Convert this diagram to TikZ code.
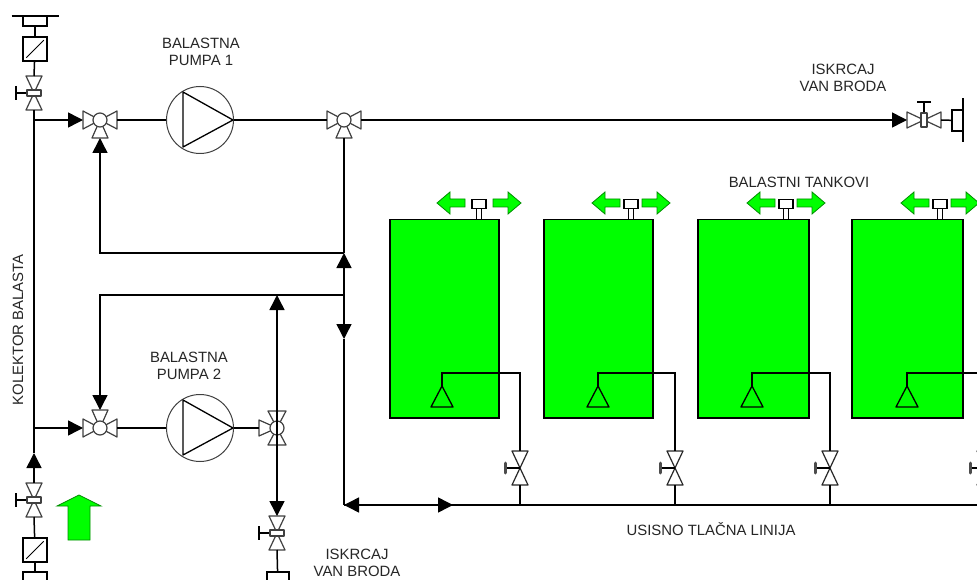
\documentclass[tikz,border=0pt]{standalone}
\usepackage{fontspec}
\setmainfont{Liberation Sans}
\usetikzlibrary{arrows.meta}
\definecolor{tankGreen}{RGB}{0,255,0}
\begin{document}
\begin{tikzpicture}
[x=1pt,y=-1pt,
  pipeDecorate/.style={-,line width=1.5pt,black},%
  flowDecorate/.style={pipeDecorate,-{Triangle[length=15pt,width=15pt]}},%
  bodyDecorate/.style={draw=black!75,line width=1.2pt,fill=white,line join=round},%
  boxDecorate/.style={shape=rectangle,draw,line width=1.5pt,fill=white,inner sep=0pt},%
  arrowDecorate/.style={fill=tankGreen,draw=black!45!tankGreen,line width=0.8pt},%
  textDecorate/.style={align=center,inner sep=0pt,text=black!85,font=\fontsize{14.9}{17.5}\selectfont},%
  valveThree/.pic={
    \path[bodyDecorate] (-17,-9) -- (-17,9) -- (0,0) -- cycle;
    \path[bodyDecorate] (17,-9) -- (17,9) -- (0,0) -- cycle;
    \path[bodyDecorate] (-8,18) -- (8,18) -- (0,0) -- cycle;
    \node (-hub) at (0,0) [shape=circle,bodyDecorate,minimum size=14pt,inner sep=0pt] {};
    \coordinate (-a) at (-17,0);
    \coordinate (-b) at (17,0);
    \coordinate (-c) at (0,18);
  },
  valveTwo/.pic={
    \path[bodyDecorate] (-8,-17) -- (8,-17) -- (0,0) -- cycle;
    \path[bodyDecorate] (-8,17) -- (8,17) -- (0,0) -- cycle;
    \draw[line width=1.3pt] (-18,0) -- (0,0) (-18,-7) -- (-18,7);
    \path[bodyDecorate] (-7,-3) rectangle (7,3);
    \coordinate (-a) at (0,-17);
    \coordinate (-b) at (0,17);
  },
  valveTank/.pic={
    \path[bodyDecorate,draw=black!85] (-8,-17) -- (8,-17) -- (0,0) -- cycle;
    \path[bodyDecorate,draw=black!85] (-8,17) -- (8,17) -- (0,0) -- cycle;
    \draw[line width=1.3pt] (-15,0) -- (0,0);
    \draw[line width=3pt,line cap=round,black!70] (-15,-5) -- (-15,5);
    \coordinate (-a) at (0,-17);
    \coordinate (-b) at (0,17);
  },
  pumpSymbol/.pic={
    \node (-body) at (0,0) [shape=circle,draw=black!75,line width=1pt,minimum size=67pt,inner sep=0pt] {};
    \draw[line width=1.3pt,line join=round] (-17,-28) -- (-17,27) -- (33,0) -- cycle;
  },
  coneSymbol/.pic={
    \draw[line width=1.3pt,line join=round] (0,0) -- (-11,21) -- (11,21) -- cycle;
    \coordinate (-a) at (0,0);
  },
  ventLeft/.pic={
    \path[arrowDecorate] (0,0) -- (13,-11) -- (13,-4) -- (28,-4) -- (28,4) -- (13,4) -- (13,11) -- cycle;
  },
  ventRight/.pic={
    \path[arrowDecorate] (0,0) -- (-13,-11) -- (-13,-4) -- (-28,-4) -- (-28,4) -- (-13,4) -- (-13,11) -- cycle;
  }]
\useasboundingbox (0,0) rectangle (977,580);
\clip (0,0) rectangle (977,580);
%% tanks, cones and vents
\foreach \nodename/\x/\w/\cone/\vent/\off/\valve in {
  A/389/109/442/479/42/520, B/543/109/598/631/39/675, C/697/111/752/786/39/830, D/851/111/907/940/39/985}
{
  \node (tank\nodename) at (\x,219) [shape=rectangle,anchor=north west,draw,line width=1.5pt,
    fill=tankGreen,minimum width=\w pt,minimum height=198pt,inner sep=0pt] {};
  \pic (cone\nodename) at (\cone,386) {coneSymbol};
  \pic (valve\nodename) at (\valve,468) {valveTank};
  \coordinate (bend\nodename) at (\valve,373);
  \coordinate (tee\nodename) at (\valve,505);
  \coordinate (stem\nodename) at (\vent,219);
  \node (cap\nodename) at (\vent,204) [boxDecorate,line width=1.2pt,minimum width=14pt,minimum height=9pt] {};
  \draw[line width=1.1pt] ([xshift=-2.5pt]cap\nodename.south) -- ([xshift=-2.5pt]stem\nodename)
    ([xshift=2.5pt]cap\nodename.south) -- ([xshift=2.5pt]stem\nodename);
  \pic at ({\vent-\off},203) {ventLeft};
  \pic at ({\vent+\off},203) {ventRight};
  \draw[pipeDecorate] (cone\nodename-a) -- ++(0,-13) -| (valve\nodename-a);
  \draw[pipeDecorate] (valve\nodename-b) -- (tee\nodename);
}
%% pumps, valves and fittings
\pic (pumpOne) at (200,120) {pumpSymbol};
\pic (pumpTwo) at (200,428) {pumpSymbol};
\pic (mixA) at (100,120) {valveThree};
\pic (mixB) at (344,120) {valveThree};
\pic[rotate=180] (mixC) at (100,428) {valveThree};
\pic[rotate=-90] (mixD) at (277,428) {valveThree};
\pic (gateA) at (34,93) {valveTwo};
\pic (gateB) at (34,500) {valveTwo};
\pic (gateC) at (277,533) {valveTwo};
\pic[rotate=-90] (gateD) at (924,120) {valveTwo};
\foreach \nodename/\y in {strainerA/49, strainerB/550}
{
  \node (\nodename) at (35,\y) [boxDecorate,minimum size=24pt] {};
  \draw[line width=1pt] ([shift={(4pt,4pt)}]\nodename.south west) -- ([shift={(-4pt,-4pt)}]\nodename.north east);
}
\node (flangeA) at (35,21) [boxDecorate,minimum width=24pt,minimum height=10pt] {};
\node (flangeB) at (35,588) [boxDecorate,minimum width=24pt,minimum height=32pt] {};
\node (flangeC) at (278,588) [boxDecorate,minimum width=22pt,minimum height=32pt] {};
\node (flangeD) at (957.5,120.5) [boxDecorate,minimum width=11pt,minimum height=21pt] {};
\node (plateA) at (34.5,16) [inner sep=0pt] {};
\node (plateD) at (963,120) [inner sep=0pt] {};
\draw[pipeDecorate] ([xshift=-23pt]plateA.center) -- ([xshift=24pt]plateA.center);
\draw[pipeDecorate] ([yshift=-22pt]plateD.center) -- ([yshift=22pt]plateD.center);
\path[arrowDecorate] (79,495) -- (101,506) -- (90,506) -- (90,540) -- (68,540) -- (68,506) -- (57,506) -- cycle;
%% junctions
\foreach \nodename/\x/\y in {
  busTop/34/120, busLow/34/428, crossA/344/253, crossB/344/295, crossC/277/295,
  corner/344/505, splitDown/344/339, splitRight/453/505, mainEnd/985/505, busMark/34/453}
{
  \coordinate (\nodename) at (\x,\y);
}
%% edges or lines
\draw[pipeDecorate] (gateA-a) -- (strainerA);
\draw[pipeDecorate] (strainerA) -- (flangeA);
\draw[pipeDecorate] (gateA-b) -- (busTop);
\draw[pipeDecorate] (busTop) -- (busLow);
\draw[pipeDecorate] (busLow) -- (busMark);
\draw[flowDecorate] (gateB-a) -- (busMark);
\draw[pipeDecorate] (gateB-b) -- (strainerB);
\draw[pipeDecorate] (strainerB) -- (flangeB);
\draw[flowDecorate] (busTop) -- (mixA-a);
\draw[flowDecorate] (busLow) -- (mixC-b);
\draw[pipeDecorate] (mixA-b) -- (pumpOne-body);
\draw[pipeDecorate] (pumpOne-body) -- (mixB-a);
\draw[flowDecorate] (mixB-b) -- (gateD-b);
\draw[pipeDecorate] (gateD-a) -- (flangeD);
\draw[pipeDecorate] (mixC-a) -- (pumpTwo-body);
\draw[pipeDecorate] (pumpTwo-body) -- (mixD-c);
\draw[pipeDecorate] (mixB-c) -- (crossA);
\draw[flowDecorate] (crossB) -- (crossA);
\draw[flowDecorate] (crossB) -- (splitDown);
\draw[pipeDecorate] (splitDown) -- (corner);
\draw[flowDecorate] (crossA) -| (mixA-c);
\draw[flowDecorate] (crossB) -| (mixC-c);
\draw[flowDecorate] (mixD-b) -- (crossC);
\draw[flowDecorate] (mixD-a) -- (gateC-a);
\draw[pipeDecorate] (gateC-b) -- (flangeC);
\draw[flowDecorate] (splitRight) -- (corner);
\draw[flowDecorate] (corner) -- (splitRight);
\draw[pipeDecorate] (splitRight) -- (mainEnd);
%% labels
\node (labelPumpA) at (201,52) [textDecorate] {BALASTNA\\PUMPA 1};
\node (labelPumpB) at (189,366) [textDecorate] {BALASTNA\\PUMPA 2};
\node (labelOutA) at (843,78) [textDecorate] {ISKRCAJ\\VAN BRODA};
\node (labelOutB) at (357,563) [textDecorate] {ISKRCAJ\\VAN BRODA};
\node (labelTanks) at (799,182) [textDecorate] {BALASTNI TANKOVI};
\node (labelLine) at (711,529) [textDecorate] {USISNO TLAČNA LINIJA};
\node (labelBus) at (18,330) [textDecorate,rotate=90] {KOLEKTOR BALASTA};
\end{tikzpicture}
\end{document}
